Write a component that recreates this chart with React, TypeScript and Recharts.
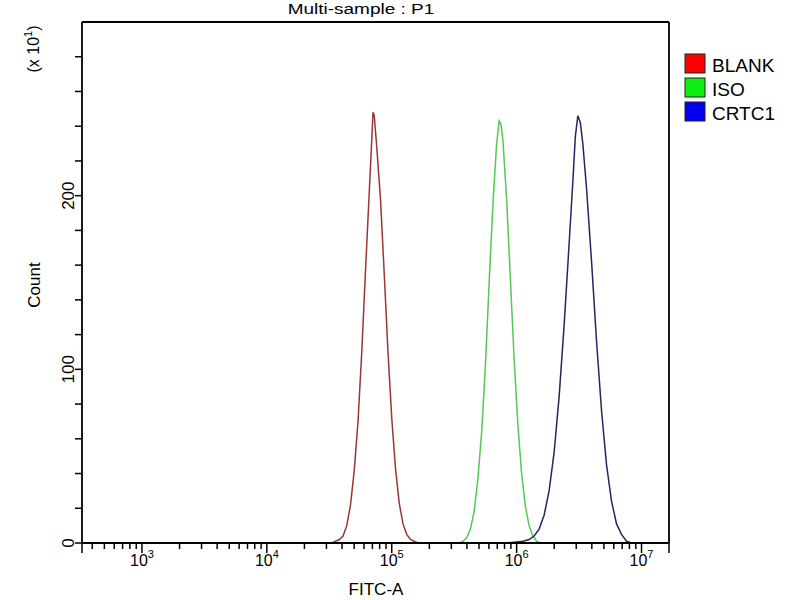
import React from 'react';
import { LineChart, Line, XAxis, YAxis, ReferenceLine } from 'recharts';

// FITC-A is stored as log10 of the channel value, the axis is drawn in decades
const xDomain = [2.52, 7.22];
const yDomain = [0, 300];
const yTicks = [0, 20, 40, 60, 80, 100, 120, 140, 160, 180, 200, 220, 240, 260, 280];
const yLabelled = [0, 100, 200];
const decades = [2, 3, 4, 5, 6, 7];
const multipliers = [1, 2, 3, 4, 5, 6, 7, 8, 9];

const seriesNames = ['BLANK', 'ISO', 'CRTC1'];
const legendColors = ['#ff0000', '#11ee11', '#0000ee'];
const lineColors = ['#9a3636', '#55c855', '#26265e'];

const blankFitc = [4.52, 4.55, 4.58, 4.61, 4.64, 4.67, 4.7, 4.73, 4.76, 4.79, 4.82, 4.84, 4.85, 4.86, 4.88, 4.91, 4.94, 4.97, 5.0, 5.03, 5.06, 5.09, 5.12, 5.15, 5.18, 5.21];
const blankCount = [0, 1, 2, 4, 10, 22, 42, 70, 110, 157, 202, 232, 248, 246, 228, 198, 155, 110, 72, 43, 23, 11, 5, 2, 1, 0];

const isoFitc = [5.54, 5.57, 5.6, 5.63, 5.66, 5.69, 5.72, 5.75, 5.78, 5.81, 5.84, 5.86, 5.875, 5.89, 5.92, 5.95, 5.98, 6.01, 6.04, 6.07, 6.1, 6.13, 6.16, 6.19];
const isoCount = [0, 1, 3, 8, 18, 37, 64, 102, 150, 195, 230, 243, 241, 232, 198, 152, 106, 68, 40, 21, 10, 4, 1, 0];

const crtcFitc = [5.9, 5.98, 6.05, 6.1, 6.14, 6.18, 6.22, 6.26, 6.3, 6.34, 6.38, 6.42, 6.45, 6.47, 6.49, 6.51, 6.53, 6.56, 6.6, 6.64, 6.68, 6.72, 6.76, 6.8, 6.84, 6.88, 6.92];
const crtcCount = [0, 0.5, 1, 2, 4, 8, 16, 30, 52, 84, 125, 172, 208, 234, 246, 242, 230, 204, 162, 116, 76, 45, 24, 11, 5, 1, 0];

const toPoints = (xs: number[], ys: number[]) => xs.map((x, i) => ({ x, y: ys[i] }));
const seriesData = [
  toPoints(blankFitc, blankCount),
  toPoints(isoFitc, isoCount),
  toPoints(crtcFitc, crtcCount),
];

const xTicks: number[] = [xDomain[0]];
decades.forEach((d) => {
  multipliers.forEach((m) => {
    const v = Math.log10(m) + d;
    if (v > xDomain[0] && v < xDomain[1]) xTicks.push(v);
  });
});
xTicks.push(xDomain[1]);

const font = '"Liberation Sans", Arial, sans-serif';

const XTick = (props: any) => {
  const { x, y, payload } = props;
  const v = payload.value;
  const isDecade = Math.abs(v - Math.round(v)) < 1e-6;
  const isEdge = v === xDomain[0] || v === xDomain[1];
  const len = isDecade || isEdge ? 10 : 6;
  return (
    <g>
      <line x1={x} y1={y} x2={x} y2={y + len} stroke="#000" strokeWidth={1.5} />
      {isDecade && !isEdge && (
        <text x={x} y={y + 23} textAnchor="middle" fontSize={16} fontFamily={font} fill="#000">
          <tspan>10</tspan>
          <tspan dy={-8} fontSize={11}>{Math.round(v)}</tspan>
        </text>
      )}
    </g>
  );
};

const YTick = (props: any) => {
  const { x, y, payload } = props;
  const v = payload.value;
  return (
    <g>
      <line x1={x - 7} y1={y} x2={x} y2={y} stroke="#000" strokeWidth={1.5} />
      {yLabelled.includes(v) && (
        <text
          x={x - 8}
          y={y}
          transform={`rotate(-90 ${x - 8} ${y})`}
          textAnchor="middle"
          fontSize={17}
          fontFamily={font}
          fill="#000"
        >
          {v}
        </text>
      )}
    </g>
  );
};

export default function App() {
  return (
    <div style={{ position: 'absolute', left: 0, top: 0, width: 800, height: 600, background: '#fff' }}>
      <LineChart width={800} height={600} margin={{ top: 22, right: 131, bottom: 17, left: 22 }}>
        <XAxis
          type="number"
          dataKey="x"
          domain={xDomain}
          ticks={xTicks}
          interval={0}
          allowDataOverflow
          height={40}
          tickSize={0}
          tickMargin={0}
          tickLine={false}
          tick={<XTick />}
          axisLine={{ stroke: '#000', strokeWidth: 1.8 }}
        />
        <YAxis
          type="number"
          domain={yDomain}
          ticks={yTicks}
          interval={0}
          allowDataOverflow
          width={60}
          tickSize={0}
          tickMargin={0}
          tickLine={false}
          tick={<YTick />}
          axisLine={{ stroke: '#000', strokeWidth: 1.8 }}
        />
        <ReferenceLine y={yDomain[1]} stroke="#000" strokeWidth={1.8} />
        <ReferenceLine x={xDomain[1]} stroke="#000" strokeWidth={1.8} />
        {seriesData.map((d, i) => (
          <Line
            key={seriesNames[i]}
            data={d}
            dataKey="y"
            name={seriesNames[i]}
            type="linear"
            stroke={lineColors[i]}
            strokeWidth={1.5}
            dot={false}
            isAnimationActive={false}
          />
        ))}
      </LineChart>
      <svg
        width={800}
        height={600}
        style={{ position: 'absolute', left: 0, top: 0, pointerEvents: 'none' }}
        fontFamily={font}
      >
        <g transform="translate(361 13.5) scale(1 0.8)">
          <text x={0} y={0} textAnchor="middle" fontSize={19} fill="#000">Multi-sample : P1</text>
        </g>
        <text x={40} y={285} transform="rotate(-90 40 285)" textAnchor="middle" fontSize={17} fill="#000">
          Count
        </text>
        <text x={39} y={49} transform="rotate(-90 39 49)" textAnchor="middle" fontSize={16} fill="#000">
          <tspan>(x 10</tspan>
          <tspan dy={-7} fontSize={11}>1</tspan>
          <tspan dy={7}>)</tspan>
        </text>
        <text x={376} y={595} textAnchor="middle" fontSize={17} fill="#000">FITC-A</text>
        {seriesNames.map((n, i) => (
          <g key={n}>
            <rect x={685} y={54 + i * 24} width={20} height={19} fill={legendColors[i]} stroke="#222" strokeWidth={1} />
            <text x={712} y={72 + i * 24} fontSize={19} fill="#000">{n}</text>
          </g>
        ))}
      </svg>
    </div>
  );
}
